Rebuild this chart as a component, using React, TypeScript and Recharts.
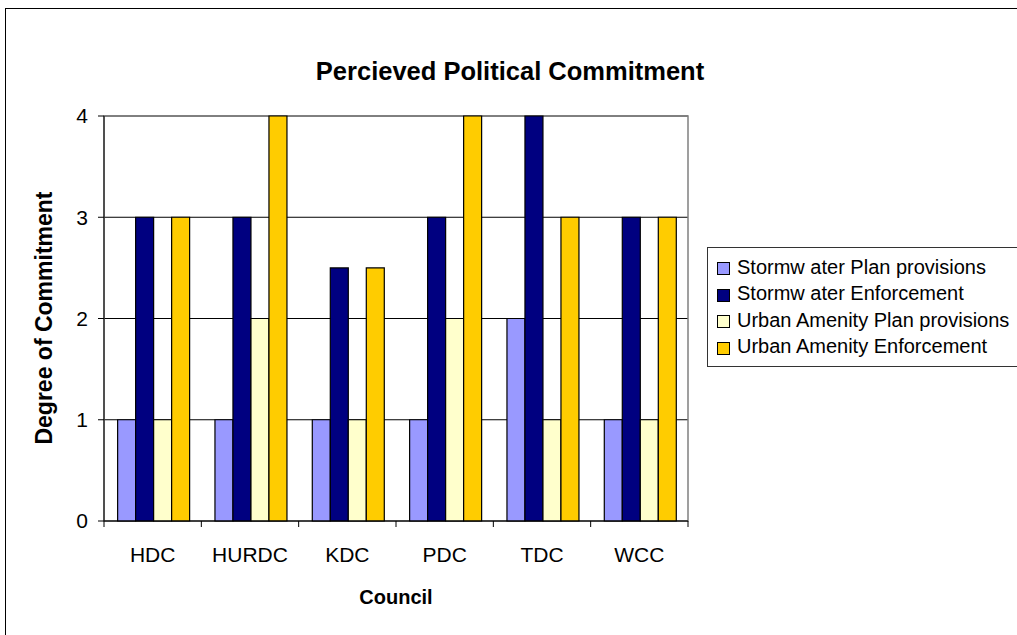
import React from 'react';
import { BarChart, Bar, XAxis, YAxis, CartesianGrid, ReferenceArea } from 'recharts';

const councils = ['HDC', 'HURDC', 'KDC', 'PDC', 'TDC', 'WCC'];
const stormwaterPlan = [1, 1, 1, 1, 2, 1];
const stormwaterEnforcement = [3, 3, 2.5, 3, 4, 3];
const urbanPlan = [1, 2, 1, 2, 1, 1];
const urbanEnforcement = [3, 4, 2.5, 4, 3, 3];
const yTicks = [0, 1, 2, 3, 4];

const seriesNames = [
  'Stormw ater Plan provisions',
  'Stormw ater Enforcement',
  'Urban Amenity Plan provisions',
  'Urban Amenity Enforcement',
];
const seriesKeys = ['sp', 'se', 'up', 'ue'];
const colors = ['#9999FF', '#000080', '#FFFFCC', '#FFCC00'];

const data = councils.map((c, i) => ({
  name: c,
  sp: stormwaterPlan[i],
  se: stormwaterEnforcement[i],
  up: urbanPlan[i],
  ue: urbanEnforcement[i],
}));

const FONT = '"Liberation Sans", Arial, sans-serif';
const W = 1017;
const H = 635;
const PLOT_LEFT = 104;
const PLOT_RIGHT = 688;
const PLOT_TOP = 116;
const BAND = (PLOT_RIGHT - PLOT_LEFT) / councils.length;

const XTick = (props: any) => {
  const { x, y, payload, index } = props;
  return (
    <g>
      <line x1={x - BAND / 2} x2={x - BAND / 2} y1={y - 8} y2={y - 2} stroke="#000" />
      {index === councils.length - 1 && (
        <line x1={x + BAND / 2} x2={x + BAND / 2} y1={y - 8} y2={y - 2} stroke="#000" />
      )}
      <text x={x} y={y + 33} textAnchor="middle" fontSize={21} fontFamily={FONT} fill="#000">
        {payload.value}
      </text>
    </g>
  );
};

export default function App() {
  return (
    <div style={{ position: 'fixed', left: 0, top: 0, width: W, height: H, overflow: 'hidden', background: '#fff' }}>
      <div
        style={{
          position: 'absolute',
          left: 5,
          top: 8,
          width: W + 50,
          height: H + 50,
          borderLeft: '1.5px solid #000',
          borderTop: '1.5px solid #000',
        }}
      />
      <div style={{ position: 'absolute', left: 0, top: 0 }}>
        <BarChart
          width={W}
          height={H}
          data={data}
          margin={{ top: PLOT_TOP, right: W - PLOT_RIGHT, bottom: 74, left: 44 }}
          barCategoryGap="14%"
          barGap={0}
        >
          <CartesianGrid horizontal vertical={false} stroke="#000" strokeWidth={1} />
          <ReferenceArea y1={0} y2={4} fill="none" stroke="#808080" strokeWidth={1.5} ifOverflow="visible" />
          <XAxis
            dataKey="name"
            height={40}
            tick={<XTick />}
            tickLine={false}
            axisLine={{ stroke: '#000' }}
            interval={0}
          />
          <YAxis
            width={60}
            domain={[0, 4]}
            ticks={yTicks}
            tickLine={{ stroke: '#000' }}
            tickSize={6}
            axisLine={{ stroke: '#000' }}
            tick={{ fontSize: 21, fontFamily: FONT, fill: '#000' }}
            tickMargin={10}
          />
          {seriesKeys.map((k, i) => (
            <Bar key={k} dataKey={k} fill={colors[i]} stroke="#000" strokeWidth={1.2} isAnimationActive={false} />
          ))}
        </BarChart>
      </div>
      <div
        style={{
          position: 'absolute',
          left: 0,
          width: 1020,
          top: 57,
          textAlign: 'center',
          fontFamily: FONT,
          fontWeight: 'bold',
          fontSize: 25.5,
        }}
      >
        Percieved Political Commitment
      </div>
      <div
        style={{
          position: 'absolute',
          left: PLOT_LEFT,
          width: PLOT_RIGHT - PLOT_LEFT,
          top: 586,
          textAlign: 'center',
          fontFamily: FONT,
          fontWeight: 'bold',
          fontSize: 20,
        }}
      >
        Council
      </div>
      <div
        style={{
          position: 'absolute',
          left: 44 - 200,
          top: 318 - 13,
          width: 400,
          textAlign: 'center',
          fontFamily: FONT,
          fontWeight: 'bold',
          fontSize: 23,
          transform: 'rotate(-90deg)',
          transformOrigin: '50% 50%',
          lineHeight: '26px',
        }}
      >
        Degree of Commitment
      </div>
      <div
        style={{
          position: 'absolute',
          left: 707,
          top: 247,
          width: 340,
          height: 120,
          border: '1.5px solid #333',
          boxSizing: 'border-box',
          paddingTop: 6,
          fontFamily: FONT,
          fontSize: 20,
        }}
      >
        {seriesNames.map((n, i) => (
          <div key={n} style={{ display: 'flex', alignItems: 'center', height: 26.5, paddingLeft: 9 }}>
            <span
              style={{
                display: 'inline-block',
                width: 11,
                height: 11,
                background: colors[i],
                border: '1px solid #000',
                marginRight: 7,
                marginTop: 3,
              }}
            />
            <span>{n}</span>
          </div>
        ))}
      </div>
    </div>
  );
}
